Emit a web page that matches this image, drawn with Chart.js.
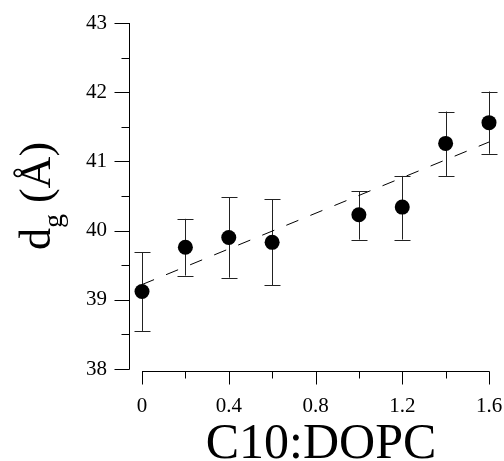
<!DOCTYPE html>
<html>
<head>
<meta charset="utf-8">
<script src="https://cdn.jsdelivr.net/npm/chart.js@4.4.1/dist/chart.umd.min.js"></script>
<style>
  html, body { margin: 0; padding: 0; background: #fff; }
  #wrap { width: 504px; height: 461px; position: relative; }
</style>
</head>
<body>
<div id="wrap"><canvas id="chart"></canvas></div>
<script>
(function () {
  'use strict';

  // --- Data ---
  var ratios = [0, 0.2, 0.4, 0.6, 1.0, 1.2, 1.4, 1.6];
  var dgValues = [39.12, 39.76, 39.90, 39.83, 40.23, 40.34, 41.26, 41.56];
  var errLow = [38.55, 39.35, 39.32, 39.21, 39.87, 39.87, 40.79, 41.11];
  var errHigh = [39.69, 40.17, 40.48, 40.45, 40.57, 40.79, 41.72, 42.01];
  var fitX = [0, 1.6];
  var fitY = [39.22, 41.28];

  var xTicks = [0, 0.2, 0.4, 0.6, 0.8, 1.0, 1.2, 1.4, 1.6];
  var xTickLabels = ['0', '', '0.4', '', '0.8', '', '1.2', '', '1.6'];
  var yTicks = [38, 38.5, 39, 39.5, 40, 40.5, 41, 41.5, 42, 42.5, 43];
  var yTickLabels = ['38', '', '39', '', '40', '', '41', '', '42', '', '43'];

  var SERIF = "'Liberation Serif', 'DejaVu Serif', serif";

  function toPoints(xs, ys) {
    return xs.map(function (x, i) { return { x: x, y: ys[i] }; });
  }

  // --- Axes, ticks, error bars, titles ---
  var decor = {
    id: 'decor',
    beforeDatasetsDraw: function (chart) {
      var ctx = chart.ctx;
      var xs = chart.scales.x, ys = chart.scales.y;
      ctx.save();
      ctx.strokeStyle = '#222';
      ctx.lineWidth = 1;
      for (var i = 0; i < ratios.length; i++) {
        var px = Math.round(xs.getPixelForValue(ratios[i])) + 0.5;
        var top = ys.getPixelForValue(errHigh[i]);
        var bot = ys.getPixelForValue(errLow[i]);
        ctx.beginPath();
        ctx.moveTo(px, top); ctx.lineTo(px, bot);
        ctx.moveTo(px - 8, Math.round(top) + 0.5); ctx.lineTo(px + 8, Math.round(top) + 0.5);
        ctx.moveTo(px - 8, Math.round(bot) + 0.5); ctx.lineTo(px + 8, Math.round(bot) + 0.5);
        ctx.stroke();
      }
      ctx.restore();
    },
    afterDraw: function (chart) {
      var ctx = chart.ctx;
      var xs = chart.scales.x, ys = chart.scales.y;
      var area = chart.chartArea;
      ctx.save();
      ctx.strokeStyle = '#000';
      ctx.lineWidth = 1;

      // y axis
      var ax = Math.round(area.left) + 0.5;
      ctx.beginPath();
      ctx.moveTo(ax, ys.getPixelForValue(43));
      ctx.lineTo(ax, ys.getPixelForValue(38) + 0.5);
      yTicks.forEach(function (v, i) {
        var py = Math.round(ys.getPixelForValue(v)) + 0.5;
        ctx.moveTo(ax, py);
        ctx.lineTo(ax - (yTickLabels[i] ? 15 : 8), py);
      });
      ctx.stroke();

      // x axis (offset below, spanning the data range)
      var ay = Math.round(area.bottom) + 2.5;
      ctx.beginPath();
      ctx.moveTo(xs.getPixelForValue(0), ay);
      ctx.lineTo(xs.getPixelForValue(1.6) + 0.5, ay);
      xTicks.forEach(function (v, i) {
        var px = Math.round(xs.getPixelForValue(v)) + 0.5;
        ctx.moveTo(px, ay);
        ctx.lineTo(px, ay + (xTickLabels[i] ? 13 : 7));
      });
      ctx.stroke();

      // axis titles
      ctx.fillStyle = '#000';
      ctx.textBaseline = 'alphabetic';
      ctx.textAlign = 'center';
      ctx.font = '50px ' + SERIF;
      ctx.fillText('C10:DOPC', 321, 458);

      ctx.translate(50, 196);
      ctx.rotate(-Math.PI / 2);
      ctx.textAlign = 'left';
      var big = '44px ' + SERIF, small = '28px ' + SERIF;
      ctx.font = big;
      var wD = ctx.measureText('d').width;
      ctx.font = small;
      var wG = ctx.measureText('g').width;
      ctx.font = big;
      var wRest = ctx.measureText(' (\u00C5)').width;
      var x0 = -(wD + wG + wRest) / 2;
      ctx.fillText('d', x0, 0);
      ctx.font = small;
      ctx.fillText('g', x0 + wD, 12);
      ctx.font = big;
      ctx.fillText(' (\u00C5)', x0 + wD + wG, 0);
      ctx.restore();
    }
  };

  new Chart(document.getElementById('chart'), {
    type: 'scatter',
    data: {
      datasets: [
        {
          label: 'd_g',
          data: toPoints(ratios, dgValues),
          backgroundColor: '#000',
          borderColor: '#000',
          pointRadius: 7.5,
          pointHoverRadius: 7.5,
          borderWidth: 0,
          order: 1
        },
        {
          label: 'fit',
          type: 'line',
          data: toPoints(fitX, fitY),
          borderColor: '#000',
          borderWidth: 1,
          borderDash: [13, 13],
          pointRadius: 0,
          fill: false,
          order: 2
        }
      ]
    },
    options: {
      responsive: true,
      maintainAspectRatio: false,
      animation: false,
      clip: false,
      layout: { padding: { top: 23, right: 15, left: 0, bottom: 0 } },
      plugins: {
        legend: { display: false },
        tooltip: { enabled: false }
      },
      scales: {
        x: {
          type: 'linear',
          min: -0.06,
          max: 1.6,
          afterBuildTicks: function (scale) {
            scale.ticks = xTicks.map(function (v) { return { value: v }; });
          },
          afterFit: function (scale) {
            scale.height = 92;
            scale.paddingLeft = 0;
            scale.paddingRight = 0;
          },
          ticks: {
            autoSkip: false,
            maxRotation: 0,
            padding: 25,
            color: '#000',
            font: { family: SERIF, size: 21 },
            callback: function (v, i) { return xTickLabels[i]; }
          },
          grid: { display: false, drawTicks: false },
          border: { display: false }
        },
        y: {
          type: 'linear',
          min: 38,
          max: 43,
          afterBuildTicks: function (scale) {
            scale.ticks = yTicks.map(function (v) { return { value: v }; });
          },
          afterFit: function (scale) {
            scale.width = 129;
            scale.paddingTop = 0;
            scale.paddingBottom = 0;
          },
          ticks: {
            autoSkip: false,
            padding: 22,
            color: '#000',
            font: { family: SERIF, size: 21 },
            callback: function (v, i) { return yTickLabels[i]; }
          },
          grid: { display: false, drawTicks: false },
          border: { display: false }
        }
      }
    },
    plugins: [decor]
  });
})();
</script>
</body>
</html>
